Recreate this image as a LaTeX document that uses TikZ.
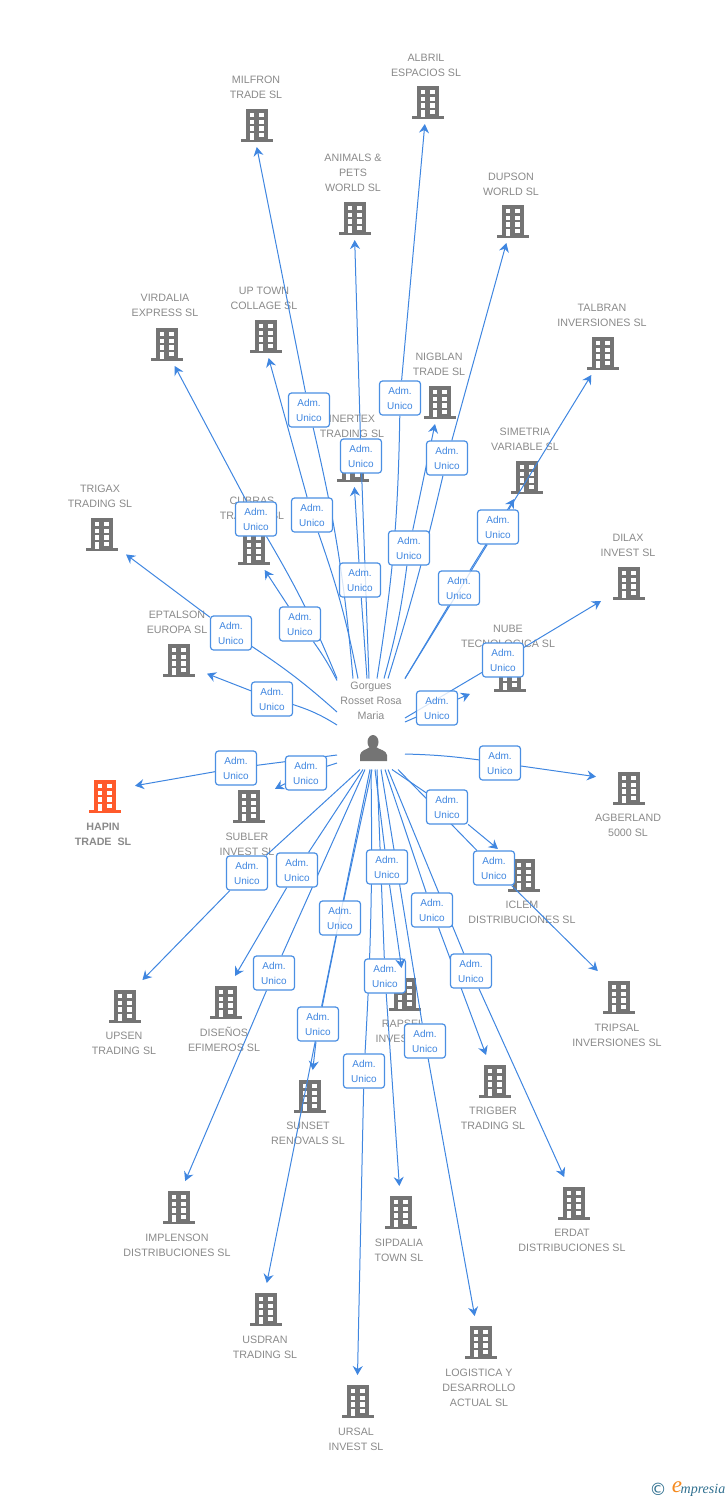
\documentclass[tikz,border=0pt]{standalone}
\usepackage{fontspec}
\setmainfont{Liberation Sans}
\newfontfamily\logofont{Liberation Serif}
\newfontfamily\copyfont{DejaVu Sans}
\usetikzlibrary{arrows.meta}
\definecolor{bldggray}{HTML}{747474}
\definecolor{labgray}{HTML}{8A8A8A}
\definecolor{hapinorange}{HTML}{FF5A2B}
\definecolor{linkblue}{HTML}{3F86E0}
\definecolor{admblue}{HTML}{4A8FE3}
\definecolor{logoteal}{HTML}{2F6F8F}
\definecolor{logoorange}{HTML}{F58A1F}
\pgfdeclarelayer{bldgs}
\pgfdeclarelayer{lines}
\pgfsetlayers{bldgs,lines,main}
\tikzset{
  bldg/.style={minimum width=60pt,minimum height=48pt,inner sep=0pt,outer sep=0pt},
  lab/.style={text=labgray,align=center,font=\fontsize{10.7}{15}\selectfont,inner sep=0pt,yshift=-1pt},
  adm/.style={draw=admblue,line width=1.2pt,fill=white,rounded corners=3pt,minimum width=41pt,minimum height=34pt,
    inner sep=0pt,text=linkblue,align=center,font=\fontsize{10}{15}\selectfont},
  admfaint/.style={adm,fill opacity=.8,text opacity=1},
  link/.style={draw=linkblue,line width=1pt},
  linkto/.style={link,-{Stealth[length=9pt,width=10pt,inset=3pt]}},
  building/.pic={
    \fill[pic actions] (-11,-14) rectangle (11,17);
    \fill[pic actions] (-16,16) rectangle (16,19);
    \fill[white] (-7.3,-10) rectangle (-3.3,-5.7);
    \fill[white] (2.3,-10) rectangle (6.7,-5.7);
    \fill[white] (-7.3,-3.3) rectangle (-3.3,1);
    \fill[white] (2.3,-3.3) rectangle (6.7,1);
    \fill[white] (-7.3,3.3) rectangle (-3.3,7.7);
    \fill[white] (2.3,3.3) rectangle (6.7,7.7);
    \fill[white] (-7.3,10) rectangle (-3.3,17);
    \fill[white] (2.3,10) rectangle (6.7,14);
  }
}
\begin{document}
\begin{tikzpicture}[x=1pt,y=-1pt]
\useasboundingbox (0,0) rectangle (728,1500);
%%%%%%%%%%%%%%%%%%%%%%%%%%%%%%%%%
\begin{pgfonlayer}{bldgs}
\node[bldg] (milfron) at (252,123) {}; \pic[fill=bldggray] at (257,123) {building};
\node[lab] (milfronlab) at (256,86.5) {MILFRON\\TRADE SL};
\node[bldg] (albril) at (427,100) {}; \pic[fill=bldggray] at (428,100) {building};
\node[lab] (albrillab) at (426,64.5) {ALBRIL\\ESPACIOS SL};
\node[bldg] (animals) at (354,216) {}; \pic[fill=bldggray] at (355,216) {building};
\node[lab] (animalslab) at (353,172) {ANIMALS \&\\PETS\\WORLD SL};
\node[bldg] (dupson) at (513,219) {}; \pic[fill=bldggray] at (513,219) {building};
\node[lab] (dupsonlab) at (511,183.5) {DUPSON\\WORLD SL};
\node[bldg] (talbran) at (606,351) {}; \pic[fill=bldggray] at (603,351) {building};
\node[lab] (talbranlab) at (602,314.5) {TALBRAN\\INVERSIONES SL};
\node[bldg] (uptown) at (262,334) {}; \pic[fill=bldggray] at (266,334) {building};
\node[lab] (uptownlab) at (264,297.5) {UP TOWN\\COLLAGE SL};
\node[bldg] (virdalia) at (162,342) {}; \pic[fill=bldggray] at (167,342) {building};
\node[lab] (virdalialab) at (165,304.5) {VIRDALIA\\EXPRESS SL};
\node[bldg] (nigblan) at (440,400) {}; \pic[fill=bldggray] at (440,400) {building};
\node[lab] (nigblanlab) at (439,363.5) {NIGBLAN\\TRADE SL};
\node[bldg] (inertex) at (353,463) {}; \pic[fill=bldggray] at (353,463) {building};
\node[lab] (inertexlab) at (352,425.5) {INERTEX\\TRADING SL};
\node[bldg] (simetria) at (529,475) {}; \pic[fill=bldggray] at (527,475) {building};
\node[lab] (simetrialab) at (525,438.5) {SIMETRIA\\VARIABLE SL};
\node[bldg] (trigax) at (96,532) {}; \pic[fill=bldggray] at (102,532) {building};
\node[lab] (trigaxlab) at (100,495.5) {TRIGAX\\TRADING SL};
\node[bldg] (cubras) at (249,546) {}; \pic[fill=bldggray] at (254,546) {building};
\node[lab] (cubraslab) at (252,507.5) {CUBRAS\\TRADING SL};
\node[bldg] (dilax) at (631,583) {}; \pic[fill=bldggray] at (629,581) {building};
\node[lab] (dilaxlab) at (628,544.5) {DILAX\\INVEST SL};
\node[bldg] (eptalson) at (177,662) {}; \pic[fill=bldggray] at (179,658) {building};
\node[lab] (eptalsonlab) at (177,621.5) {EPTALSON\\EUROPA SL};
\node[bldg] (nube) at (500,681) {}; \pic[fill=bldggray] at (510,673) {building};
\node[lab] (nubelab) at (508,635.5) {NUBE\\TECNOLOGICA SL};
%%%%%%%%%%%%%%%%%%%%%%%%%%%%%%%%%
\node[bldg] (hapin) at (105,791) {}; \pic[fill=hapinorange] at (105,794) {building};
\node[lab,font=\fontsize{10.7}{15}\selectfont\bfseries] (hapinlab) at (103,833.5) {HAPIN\\TRADE\ \ SL};
\node[bldg] (subler) at (245,804) {}; \pic[fill=bldggray] at (249,804) {building};
\node[lab] (sublerlab) at (247,843.5) {SUBLER\\INVEST SL};
\node[bldg] (agberland) at (626,781) {}; \pic[fill=bldggray] at (629,786) {building};
\node[lab] (agberlandlab) at (628,824.5) {AGBERLAND\\5000 SL};
\node[bldg] (iclem) at (527,873) {}; \pic[fill=bldggray] at (524,873) {building};
\node[lab] (iclemlab) at (522,911.5) {ICLEM\\DISTRIBUCIONES SL};
\node[bldg] (tripsal) at (622,995) {}; \pic[fill=bldggray] at (619,995) {building};
\node[lab] (tripsallab) at (617,1034.5) {TRIPSAL\\INVERSIONES SL};
\node[bldg] (upsen) at (119,1004) {}; \pic[fill=bldggray] at (125,1004) {building};
\node[lab] (upsenlab) at (124,1042.5) {UPSEN\\TRADING SL};
\node[bldg] (disenos) at (221,1000) {}; \pic[fill=bldggray] at (226,1000) {building};
\node[lab] (disenoslab) at (224,1038.5) {DISEÑOS\\EFIMEROS SL};
\node[bldg] (rapsel) at (405,992) {}; \pic[fill=bldggray] at (405,992) {building};
\node[lab] (rapsellab) at (403,1030.5) {RAPSEL\\INVEST SL};
\node[bldg] (sunset) at (310,1094) {}; \pic[fill=bldggray] at (310,1094) {building};
\node[lab] (sunsetlab) at (308,1132.5) {SUNSET\\RENOVALS SL};
\node[bldg] (trigber) at (495,1079) {}; \pic[fill=bldggray] at (495,1079) {building};
\node[lab] (trigberlab) at (493,1117.5) {TRIGBER\\TRADING SL};
\node[bldg] (erdat) at (575,1201) {}; \pic[fill=bldggray] at (574,1201) {building};
\node[lab] (erdatlab) at (572,1239.5) {ERDAT\\DISTRIBUCIONES SL};
\node[bldg] (implenson) at (175,1205) {}; \pic[fill=bldggray] at (179,1205) {building};
\node[lab] (implensonlab) at (177,1244.5) {IMPLENSON\\DISTRIBUCIONES SL};
\node[bldg] (sipdalia) at (401,1210) {}; \pic[fill=bldggray] at (401,1210) {building};
\node[lab] (sipdalialab) at (399,1249.5) {SIPDALIA\\TOWN SL};
\node[bldg] (usdran) at (262,1307) {}; \pic[fill=bldggray] at (266,1307) {building};
\node[lab] (usdranlab) at (265,1346.5) {USDRAN\\TRADING SL};
\node[bldg] (logistica) at (479,1340) {}; \pic[fill=bldggray] at (481,1340) {building};
\node[lab] (logisticalab) at (479,1387) {LOGISTICA Y\\DESARROLLO\\ACTUAL SL};
\node[bldg] (ursal) at (357,1399) {}; \pic[fill=bldggray] at (358,1399) {building};
\node[lab] (ursallab) at (356,1438.5) {URSAL\\INVEST SL};
\end{pgfonlayer}
%%%%%%%%%%%%%%%%%%%%%%%%%%%%%%%%%
\node[minimum width=68pt,minimum height=91pt,inner sep=0pt,outer sep=0pt] (gorgues) at (371,724) {};
\node[lab] (gorgueslab) at (371,700) {Gorgues\\Rosset Rosa\\Maria};
\fill[bldggray] (373,742) ellipse (5.5 and 7);
\fill[bldggray] (360,761) -- (360,755) .. controls (361,750) and (366,750) .. (370,747) -- (376,747) .. controls (380,750) and (386,750) .. (387,755) -- (387,761) -- cycle;
%%%%%%%%%%%%%%%%%%%%%%%%%%%%%%%%%
\node[adm] (milfronbox) at (309,410) {Adm.\\Unico};
\node[adm] (albrilbox) at (400,398) {Adm.\\Unico};
\node[adm] (animalsbox) at (361,456) {Adm.\\Unico};
\node[adm] (dupsonbox) at (447,458) {Adm.\\Unico};
\node[adm] (uptownbox) at (312,515) {Adm.\\Unico};
\node[adm] (virdaliabox) at (256,519) {Adm.\\Unico};
\node[adm] (talbranbox) at (498,527) {Adm.\\Unico};
\node[adm] (nigblanbox) at (409,548) {Adm.\\Unico};
\node[admfaint] (inertexbox) at (360,580) {Adm.\\Unico};
\node[admfaint] (simetriabox) at (459,588) {Adm.\\Unico};
\node[adm] (cubrasbox) at (300,624) {Adm.\\Unico};
\node[adm] (trigaxbox) at (231,633) {Adm.\\Unico};
\node[adm] (dilaxbox) at (503,660) {Adm.\\Unico};
\node[adm] (eptalsonbox) at (272,699) {Adm.\\Unico};
\node[admfaint] (nubebox) at (437,708) {Adm.\\Unico};
\node[adm] (hapinbox) at (236,768) {Adm.\\Unico};
\node[adm] (sublerbox) at (306,773) {Adm.\\Unico};
\node[adm] (agberlandbox) at (500,763) {Adm.\\Unico};
\node[adm] (iclembox) at (447,807) {Adm.\\Unico};
\node[adm] (tripsalbox) at (494,868) {Adm.\\Unico};
\node[adm] (upsenbox) at (247,873) {Adm.\\Unico};
\node[adm] (disenosbox) at (297,870) {Adm.\\Unico};
\node[adm] (rapselbox) at (387,867) {Adm.\\Unico};
\node[adm] (trigberbox) at (432,910) {Adm.\\Unico};
\node[admfaint] (usdranbox) at (340,918) {Adm.\\Unico};
\node[adm] (implensonbox) at (274,973) {Adm.\\Unico};
\node[adm] (erdatbox) at (471,971) {Adm.\\Unico};
\node[adm] (sipdaliabox) at (385,976) {Adm.\\Unico};
\node[adm] (sunsetbox) at (318,1024) {Adm.\\Unico};
\node[adm] (logisticabox) at (425,1041) {Adm.\\Unico};
\node[adm] (ursalbox) at (364,1071) {Adm.\\Unico};
%%%%%%%%%%%%%%%%%%%%%%%%%%%%%%%%%
\begin{pgfonlayer}{lines}
\draw[link] ([xshift=-18pt]gorgues.north) to[bend right=4] (milfronbox); \draw[linkto] (milfronbox) -- (milfron);
\draw[link] ([xshift=6pt]gorgues.north) to[bend right=4] (albrilbox); \draw[linkto] (albrilbox) -- (albril);
\draw[link] ([xshift=-2pt]gorgues.north) -- (animalsbox); \draw[linkto] (animalsbox) -- (animals);
\draw[link] ([xshift=17pt]gorgues.north) to[bend right=2] (dupsonbox); \draw[linkto] (dupsonbox) -- (dupson);
\draw[link] ([xshift=-13pt]gorgues.north) to[bend right=4] (uptownbox); \draw[linkto] (uptownbox) -- (uptown);
\draw[link] (gorgues.north west) to[bend right=4] (virdaliabox); \draw[linkto] (virdaliabox) -- (virdalia);
\draw[link] (gorgues.north east) -- (talbranbox); \draw[linkto] (talbranbox) -- (talbran);
\draw[link] ([xshift=13pt]gorgues.north) to[bend right=4] (nigblanbox); \draw[linkto] (nigblanbox) -- (nigblan);
\draw[link] ([xshift=-4pt]gorgues.north) -- (inertexbox); \draw[linkto] (inertexbox) -- (inertex);
\draw[link] (gorgues.north east) -- (simetriabox); \draw[linkto] (simetriabox) -- (simetria);
\draw[link] ([yshift=-2pt]gorgues.north west) to[bend right=4] (cubrasbox); \draw[linkto] (cubrasbox) -- (cubras);
\draw[link] ([yshift=12pt]gorgues.west) to[bend right=4] (trigaxbox); \draw[linkto] (trigaxbox) -- (trigax);
\draw[link] ([yshift=6pt]gorgues.east) -- (dilaxbox); \draw[linkto] (dilaxbox) -- (dilax);
\draw[link] ([yshift=-1pt]gorgues.west) to[bend right=7] (eptalsonbox); \draw[linkto] (eptalsonbox) -- (eptalson);
\draw[link] ([yshift=2pt]gorgues.east) -- (nubebox); \draw[linkto] (nubebox) -- (nube);
\draw[link] ([yshift=-31pt]gorgues.west) -- (hapinbox); \draw[linkto] (hapinbox) -- (hapin);
\draw[link] ([yshift=-39pt]gorgues.west) -- (sublerbox); \draw[linkto] (sublerbox) -- (subler);
\draw[link] ([yshift=-30pt]gorgues.east) to[bend left=3] (agberlandbox); \draw[linkto] (agberlandbox) -- (agberland);
\draw[link] ([xshift=21pt]gorgues.south) -- (iclembox); \draw[linkto] (iclembox) -- (iclem);
\draw[link] ([xshift=27pt]gorgues.south) -- (tripsalbox); \draw[linkto] (tripsalbox) -- (tripsal);
\draw[link] ([xshift=-11pt]gorgues.south) -- (upsenbox); \draw[linkto] (upsenbox) -- (upsen);
\draw[link] ([xshift=-8pt]gorgues.south) -- (disenosbox); \draw[linkto] (disenosbox) -- (disenos);
\draw[link] ([xshift=4pt]gorgues.south) -- (rapselbox);
\draw[link] ([xshift=14pt]gorgues.south) -- (trigberbox); \draw[linkto] (trigberbox) -- (trigber);
\draw[link] ([xshift=1pt]gorgues.south) -- (usdranbox); \draw[linkto] (usdranbox) -- (usdran);
\draw[link] ([xshift=-6pt]gorgues.south) -- (implensonbox); \draw[linkto] (implensonbox) -- (implenson);
\draw[link] ([xshift=17pt]gorgues.south) -- (erdatbox); \draw[linkto] (erdatbox) -- (erdat);
\draw[link] ([xshift=6pt]gorgues.south) -- (sipdaliabox); \draw[linkto] (sipdaliabox) -- (sipdalia);
\draw[link] ([xshift=-1pt]gorgues.south) -- (sunsetbox); \draw[linkto] (sunsetbox) -- (sunset);
\draw[link] ([xshift=10pt]gorgues.south) -- (logisticabox); \draw[linkto] (logisticabox) -- (logistica);
\draw[link] (gorgues.south) to[bend left=2] (ursalbox); \draw[linkto] (ursalbox) -- (ursal);
\end{pgfonlayer}
\draw[linkto] (rapselbox) -- (rapsel);
%%%%%%%%%%%%%%%%%%%%%%%%%%%%%%%%%
\node[text=logoteal,font=\copyfont\fontsize{17}{17}\selectfont,inner sep=0pt] (logoc) at (658,1489) {©};
\node[text=logoteal,font=\logofont\itshape\fontsize{14}{14}\selectfont,inner sep=0pt] (logot) at (703,1490) {mpresia};
\node[text=logoorange,font=\logofont\itshape\fontsize{23}{23}\selectfont,inner sep=0pt] (logoe) at (677,1487) {e};
\end{tikzpicture}
\end{document}
